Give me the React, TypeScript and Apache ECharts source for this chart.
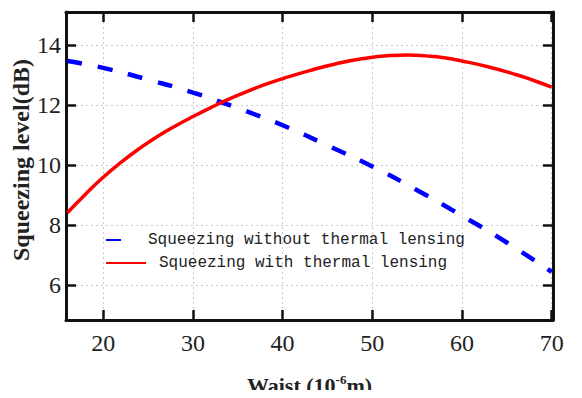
import React, { useEffect, useRef } from "react";
import * as echarts from "echarts";

// Waist (10^-6 m)
const waistNoLens = [16, 20, 25, 30, 35, 40, 45, 50, 55, 60, 65, 70];
const squeezeNoLens = [13.47, 13.24, 12.85, 12.42, 11.9, 11.33, 10.66, 9.96, 9.17, 8.32, 7.43, 6.45];

const waistLens = [16, 18, 20, 22, 24, 26, 28, 30, 32, 34, 36, 38, 40, 43, 46, 49, 52, 54, 56, 58, 60, 63, 66, 68, 70];
const squeezeLens = [8.42, 9.03, 9.6, 10.1, 10.55, 10.95, 11.3, 11.62, 11.92, 12.2, 12.45, 12.68, 12.88, 13.15, 13.38, 13.55, 13.65, 13.67, 13.64, 13.58, 13.47, 13.27, 13.02, 12.82, 12.6];

const seriesNames = ["Squeezing without thermal lensing", "Squeezing with thermal lensing"];
const xName = ["Waist (10", "-6", "m)"];
const yName = "Squeezing level(dB)";

const X_MIN = 15.85;
const X_MAX = 70.15;
const Y_MIN = 4.85;
const Y_MAX = 15.1;

export default function App() {
  const ref = useRef<HTMLDivElement>(null);
  useEffect(() => {
    if (!ref.current) return;
    const chart = echarts.init(ref.current, undefined, { renderer: "svg" });
    const serif = "Liberation Serif";
    const mono = "Liberation Mono";
    const frame = { show: true, onZero: false, lineStyle: { color: "#111", width: 3 } };
    const tick = { show: true, inside: true, length: 10, lineStyle: { color: "#111", width: 2.5 } };
    const split = { show: true, lineStyle: { color: "#c8c8c8", type: [2, 3], width: 1 } };
    chart.setOption({
      animation: false,
      backgroundColor: "#ffffff",
      textStyle: { fontFamily: serif },
      grid: { left: 66, right: 29, top: 12, bottom: 78, containLabel: false, outerBoundsMode: "none" },
      legend: [
        {
          data: [seriesNames[0]],
          left: 105,
          top: 232,
          padding: 0,
          itemWidth: 16,
          itemHeight: 14,
          itemStyle: { opacity: 0 },
          textStyle: { fontFamily: mono, fontSize: 16, color: "#222", padding: [0, 0, 0, 21] },
        },
        {
          data: [seriesNames[1]],
          left: 105,
          top: 255,
          padding: 0,
          itemWidth: 40,
          itemHeight: 14,
          itemStyle: { opacity: 0 },
          textStyle: { fontFamily: mono, fontSize: 16, color: "#222", padding: [0, 0, 0, 8] },
        },
      ],
      xAxis: [
        {
          type: "value",
          min: X_MIN,
          max: X_MAX,
          splitNumber: 5,
          position: "bottom",
          axisLine: frame,
          axisTick: tick,
          splitLine: split,
          axisLabel: {
            margin: 11,
            fontFamily: serif,
            fontSize: 24,
            color: "#222",
            showMinLabel: false,
            showMaxLabel: false,
          },
          name: `{a|${xName[0]}}{s|${xName[1]}}{a|${xName[2]}}`,
          nameLocation: "middle",
          nameGap: 53,
          nameTextStyle: {
            rich: {
              a: { fontFamily: serif, fontWeight: "bold", fontSize: 22, color: "#222" },
              s: { fontFamily: serif, fontWeight: "bold", fontSize: 13, color: "#222", padding: [0, 0, 12, 0] },
            },
          },
        },
        {
          type: "value",
          min: X_MIN,
          max: X_MAX,
          splitNumber: 5,
          position: "top",
          axisLine: frame,
          axisTick: tick,
          splitLine: { show: false },
          axisLabel: { show: false },
        },
      ],
      yAxis: [
        {
          type: "value",
          min: Y_MIN,
          max: Y_MAX,
          splitNumber: 5,
          position: "left",
          axisLine: frame,
          axisTick: tick,
          splitLine: split,
          axisLabel: {
            margin: 5,
            fontFamily: serif,
            fontSize: 24,
            color: "#222",
            showMinLabel: false,
            showMaxLabel: false,
          },
          name: yName,
          nameLocation: "middle",
          nameGap: 33,
          nameMoveOverlap: false,
          nameTextStyle: {
            fontFamily: serif,
            fontWeight: "bold",
            fontSize: 24,
            color: "#222",
            padding: [0, 0, 0, 12],
          },
        },
        {
          type: "value",
          min: Y_MIN,
          max: Y_MAX,
          splitNumber: 5,
          position: "right",
          axisLine: frame,
          axisTick: tick,
          splitLine: { show: false },
          axisLabel: { show: false },
        },
      ],
      series: [
        {
          name: seriesNames[0],
          type: "line",
          xAxisIndex: 0,
          yAxisIndex: 0,
          smooth: true,
          symbol: "none",
          data: waistNoLens.map((x, i) => [x, squeezeNoLens[i]]),
          lineStyle: { color: "#0000ff", width: 4.5, type: [15, 16] },
          itemStyle: { color: "#0000ff" },
          z: 3,
        },
        {
          name: seriesNames[1],
          type: "line",
          xAxisIndex: 0,
          yAxisIndex: 0,
          smooth: true,
          symbol: "none",
          data: waistLens.map((x, i) => [x, squeezeLens[i]]),
          lineStyle: { color: "#ff0000", width: 3.5 },
          itemStyle: { color: "#ff0000" },
          z: 4,
        },
      ],
    });
    return () => chart.dispose();
  }, []);
  return <div ref={ref} style={{ width: 582, height: 398, margin: -8 }} />;
}
